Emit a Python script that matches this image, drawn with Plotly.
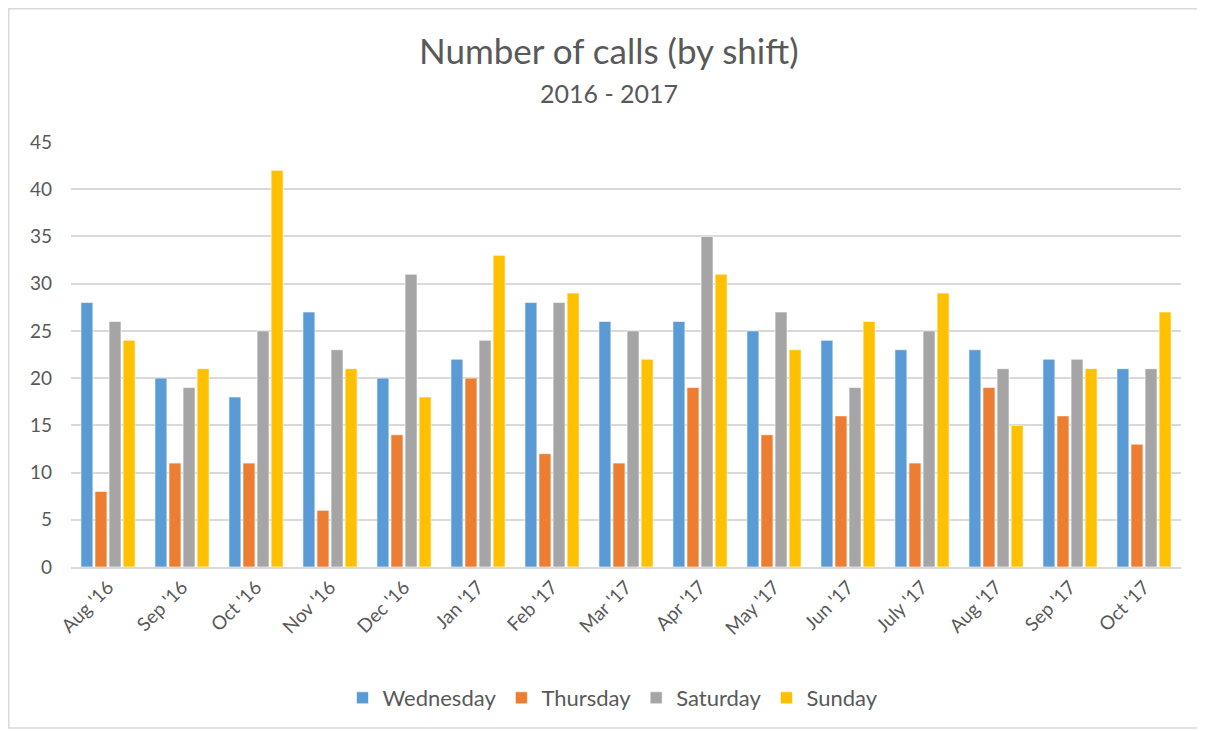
import plotly.graph_objects as go

months = ["Aug '16", "Sep '16", "Oct '16", "Nov '16", "Dec '16", "Jan '17", "Feb '17",
          "Mar '17", "Apr '17", "May '17", "Jun '17", "July '17", "Aug '17", "Sep '17", "Oct '17"]
wednesday = [28, 20, 18, 27, 20, 22, 28, 26, 26, 25, 24, 23, 23, 22, 21]
thursday = [8, 11, 11, 6, 14, 20, 12, 11, 19, 14, 16, 11, 19, 16, 13]
saturday = [26, 19, 25, 23, 31, 24, 28, 25, 35, 27, 19, 25, 21, 22, 21]
sunday = [24, 21, 42, 21, 18, 33, 29, 22, 31, 23, 26, 29, 15, 21, 27]

series = [("Wednesday", wednesday, "#5B9BD5"),
          ("Thursday", thursday, "#ED7D31"),
          ("Saturday", saturday, "#A5A5A5"),
          ("Sunday", sunday, "#FFC000")]

FONT = "Lato"
fig = go.Figure()
for name, vals, col in series:
    fig.add_trace(go.Bar(
        x=months, y=vals, name=name,
        marker=dict(color=col, line=dict(color="white", width=0.6)),
    ))

# page has 8px body margin; work in figure pixels = page pixels - 8
O = 8
W, H = 1205 - O, 731 - O
l, r, t, b = 71 - O, 24, 142 - O, 164
pw, ph = W - l - r, H - t - b

def px(x):
    return (x - O - l) / pw

def py(y):
    return (H - b - (y - O)) / ph

fig.update_layout(
    width=W, height=H,
    margin=dict(l=l, r=r, t=t, b=b, autoexpand=False),
    paper_bgcolor="white", plot_bgcolor="white",
    barmode="group", bargap=0.24, bargroupgap=0.15,
    font=dict(family=FONT, color="#595959"),
    showlegend=True,
    legend=dict(orientation="h", x=px(613), xanchor="center", y=py(698), yanchor="middle",
                font=dict(size=22, color="#595959", family=FONT), itemwidth=30,
                traceorder="normal"),
    xaxis=dict(tickangle=-45, tickfont=dict(size=19, color="#595959"),
               showline=True, linecolor="#D9D9D9", linewidth=1.5, ticks="",
               showgrid=False),
    yaxis=dict(range=[0, 45], dtick=5, tickfont=dict(size=19, color="#595959"),
               showgrid=True, gridcolor="#D9D9D9", gridwidth=1.5, zeroline=False,
               showline=False, ticks="", ticklabelstandoff=18),
    annotations=[
        dict(text="Number of calls (by shift)", xref="paper", yref="paper",
             x=px(609), y=py(50), xanchor="center", yanchor="middle", showarrow=False,
             font=dict(size=35, color="#595959", family=FONT)),
        dict(text="2016 - 2017", xref="paper", yref="paper",
             x=px(609), y=py(93), xanchor="center", yanchor="middle", showarrow=False,
             font=dict(size=25, color="#595959", family=FONT)),
    ],
    shapes=[dict(type="rect", xref="paper", yref="paper",
                 x0=px(8.75), x1=px(1202), y0=py(728), y1=py(8.75),
                 line=dict(color="#D9D9D9", width=1.5), fillcolor="rgba(0,0,0,0)")],
)

fig.write_html("out.html")
